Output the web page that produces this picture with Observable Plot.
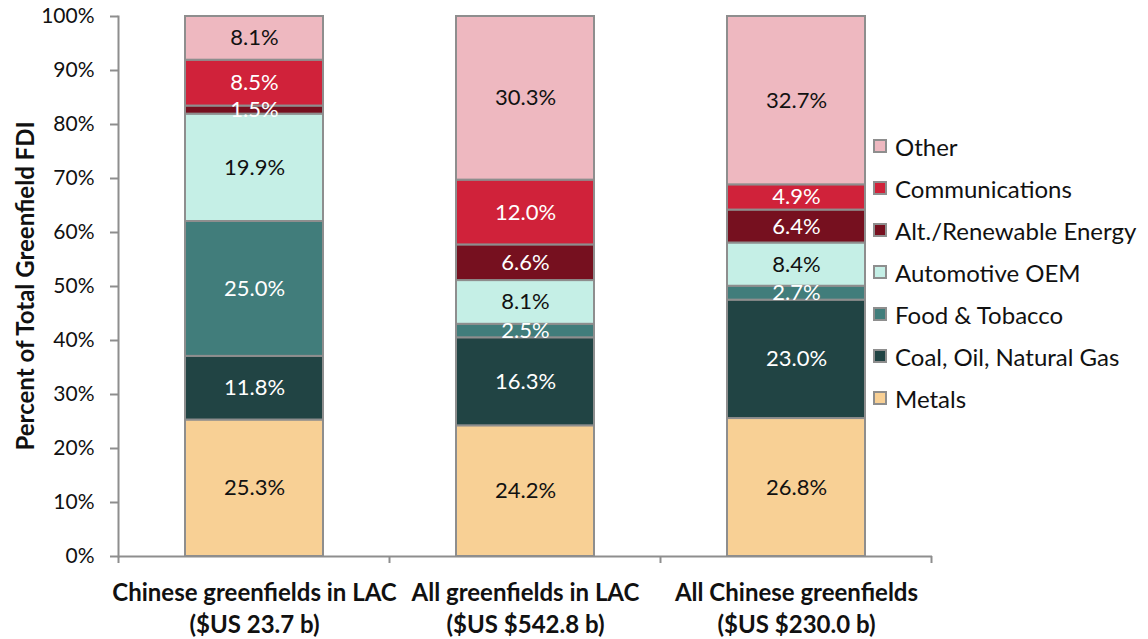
<!DOCTYPE html>
<html><head><meta charset="utf-8">
<script src="https://cdn.jsdelivr.net/npm/d3@7"></script>
<script src="https://cdn.jsdelivr.net/npm/@observablehq/plot@0.6"></script>
<style>
body{margin:0;background:#fff;font-family:Lato,"Open Sans",sans-serif;}
#wrap{position:relative;width:1148px;height:639px;overflow:hidden;}
#legend{position:absolute;left:873px;top:125px;}
.row{display:flex;align-items:center;height:42px;font-size:24px;color:#111;white-space:nowrap;}
.sw{width:10px;height:10px;border:2px solid #8e8e8e;margin-right:8px;flex:none;}
#ylab{position:absolute;left:24px;top:286px;transform:translate(-50%,-50%) rotate(-90deg);font-size:24px;font-weight:bold;color:#111;white-space:nowrap;}
</style></head><body>
<div id="wrap"><div id="chart"></div><div id="ylab">Percent of Total Greenfield FDI</div><div id="legend"></div></div>
<script>
const categories = ["Chinese greenfields in LAC", "All greenfields in LAC", "All Chinese greenfields"];
const totals = ["($US 23.7 b)", "($US $542.8 b)", "($US $230.0 b)"];
const sectors = ["Metals", "Coal, Oil, Natural Gas", "Food & Tobacco", "Automotive OEM", "Alt./Renewable Energy", "Communications", "Other"];
const colors = ["#f8d095", "#214444", "#417d7b", "#c5efe6", "#76101f", "#d0223a", "#eeb8c0"];
const lightSectors = ["Metals", "Automotive OEM", "Other"];
const chineseLAC = [25.3, 11.8, 25.0, 19.9, 1.5, 8.5, 8.1];
const allLAC = [24.2, 16.3, 2.5, 8.1, 6.6, 12.0, 30.3];
const allChinese = [26.8, 23.0, 2.7, 8.4, 6.4, 4.9, 32.7];
const yTicks = [0, 0.1, 0.2, 0.3, 0.4, 0.5, 0.6, 0.7, 0.8, 0.9, 1.0];

const series = [chineseLAC, allLAC, allChinese];
const data = [];
categories.forEach((c, ci) => sectors.forEach((s, si) => data.push({cat: c, sector: s, value: series[ci][si]})));

const label = d => d.value.toFixed(1) + "%";
const axisColor = "#8e8e8e";

const plot = Plot.plot({
  width: 1148, height: 639,
  marginTop: 16, marginBottom: 83, marginLeft: 118, marginRight: 216,
  style: {fontFamily: "Lato, 'Open Sans', sans-serif", background: "white", color: "#111"},
  x: {domain: categories, paddingInner: 0.49, paddingOuter: 0.245},
  y: {domain: [0, 1]},
  color: {domain: sectors, range: colors},
  marks: [
    Plot.barY(data, {x: "cat", y: "value", fill: "sector", z: "sector", offset: "normalize", stroke: axisColor, strokeWidth: 2}),
    Plot.text(data, Plot.stackY({x: "cat", y: "value", z: "sector", offset: "normalize",
      text: d => lightSectors.includes(d.sector) ? label(d) : null, fill: "#111", fontSize: 22})),
    Plot.text(data, Plot.stackY({x: "cat", y: "value", z: "sector", offset: "normalize",
      text: d => lightSectors.includes(d.sector) ? null : label(d), fill: "white", fontSize: 22})),
    Plot.ruleY([0], {stroke: axisColor, strokeWidth: 2}),
    Plot.axisY({ticks: yTicks, tickFormat: d3.format(".0%"), tickSize: 8, tickPadding: 16, stroke: axisColor, strokeWidth: 2, fontSize: 21, label: null}),
    Plot.axisX({tickSize: 0, tickPadding: 22, fontSize: 24, fontWeight: "bold", lineHeight: 1.33,
      tickFormat: d => d + "\n" + totals[categories.indexOf(d)], label: null}),
    Plot.frame({anchor: "left", stroke: axisColor, strokeWidth: 2})
  ]
});
document.getElementById("chart").append(plot);

// category boundary ticks on the x axis, from the plot's own scales
const xs = plot.scale("x"), ys = plot.scale("y");
const gap = (xs.step - xs.bandwidth) / 2;
const bounds = categories.map(c => xs.apply(c) - gap).concat([xs.apply(categories[categories.length - 1]) + xs.bandwidth + gap]);
const y0 = ys.apply(0);
d3.select(plot).append("g").selectAll("line").data(bounds).join("line")
  .attr("x1", d => d).attr("x2", d => d).attr("y1", y0).attr("y2", y0 + 7)
  .attr("stroke", axisColor).attr("stroke-width", 2);

// legend
const lg = d3.select("#legend");
sectors.slice().reverse().forEach(s => {
  const r = lg.append("div").attr("class", "row");
  r.append("div").attr("class", "sw").style("background", colors[sectors.indexOf(s)]);
  r.append("span").text(s);
});
</script>
</body></html>
